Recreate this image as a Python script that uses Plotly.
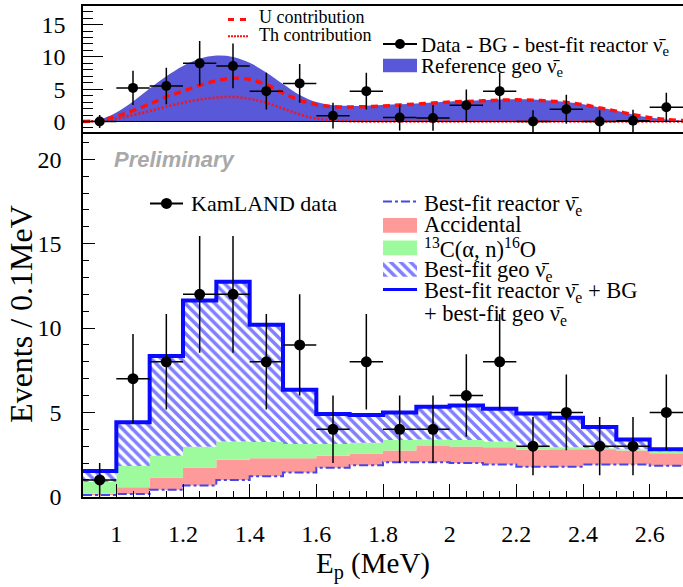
import plotly.graph_objects as go

# ---------------- data ----------------
bin_edges = [0.9, 1.0, 1.1, 1.2, 1.3, 1.4, 1.5, 1.6, 1.7, 1.8, 1.9,
             2.0, 2.1, 2.2, 2.3, 2.4, 2.5, 2.6, 2.7]
bin_centers = [0.95, 1.05, 1.15, 1.25, 1.35, 1.45, 1.55, 1.65, 1.75,
               1.85, 1.95, 2.05, 2.15, 2.25, 2.35, 2.45, 2.55, 2.65]

kamland_counts = [1, 7, 8, 12, 12, 8, 9, 4, 8, 4, 4, 6, 8, 3, 5, 3, 3, 5]
count_errors = [1.0, 2.65, 2.83, 3.46, 3.46, 2.83, 3.0, 2.0, 2.83, 2.0, 2.0,
                2.45, 2.83, 1.73, 2.24, 1.73, 1.73, 2.24]

reactor_fit = [0.10, 0.17, 0.42, 0.66, 1.00, 1.22, 1.43, 1.72, 1.87, 2.05,
               2.05, 2.00, 1.91, 1.78, 1.78, 1.91, 1.91, 1.84]
accidental = [0.10, 0.39, 0.72, 1.08, 1.20, 1.06, 0.85, 0.71, 0.70, 0.69,
              0.96, 0.98, 1.03, 1.00, 1.04, 0.91, 0.83, 0.74]
c13_alpha_n = [0.68, 1.26, 1.29, 1.23, 1.08, 0.97, 0.85, 0.70, 0.63, 0.62,
               0.39, 0.38, 0.33, 0.23, 0.12, 0.06, 0.08, 0.11]
geo_fit = [0.65, 2.60, 5.92, 8.66, 9.47, 6.95, 3.21, 1.78, 1.65, 1.64,
           1.93, 2.05, 1.95, 1.92, 1.74, 1.25, 0.58, 0.13]

# top panel: data - BG - best-fit reactor
residual_counts = [0.0, 5.2, 5.5, 9.0, 8.6, 4.7, 5.9, 0.9, 4.7, 0.6, 0.55,
                   2.5, 4.7, 0.0, 1.9, 0.0, 0.1, 2.2]

curve_x = [0.90, 0.95, 1.00, 1.05, 1.10, 1.15, 1.20, 1.25, 1.30, 1.35, 1.40,
           1.45, 1.50, 1.55, 1.60, 1.65, 1.70, 1.75, 1.80, 1.85, 1.90, 1.95,
           2.00, 2.05, 2.10, 2.15, 2.20, 2.25, 2.30, 2.35, 2.40, 2.45, 2.50,
           2.55, 2.60, 2.65, 2.70]
reference_geo = [0.0, 0.3, 1.4, 3.1, 5.1, 7.0, 8.6, 9.7, 10.2, 10.0, 9.1,
                 7.6, 5.8, 4.1, 3.0, 2.5, 2.4, 2.45, 2.55, 2.65, 2.8, 2.95,
                 3.1, 3.2, 3.3, 3.4, 3.45, 3.4, 3.25, 3.0, 2.65, 2.15, 1.65,
                 1.1, 0.6, 0.3, 0.15]
u_contribution = [0.0, 0.15, 0.8, 1.7, 2.7, 3.8, 4.7, 5.6, 6.3, 6.7, 6.5,
                  5.7, 4.4, 3.3, 2.6, 2.3, 2.25, 2.3, 2.4, 2.55, 2.7, 2.85,
                  3.0, 3.1, 3.2, 3.3, 3.35, 3.3, 3.15, 2.95, 2.6, 2.1, 1.6,
                  1.05, 0.6, 0.3, 0.15]
th_contribution = [0.0, 0.1, 0.45, 1.0, 1.6, 2.3, 2.9, 3.4, 3.7, 3.8, 3.5,
                   2.9, 2.0, 1.1, 0.45, 0.15, 0.05, 0.0, 0.0, 0.0, 0.0, 0.0,
                   0.0, 0.0, 0.0, 0.0, 0.0, 0.0, 0.0, 0.0, 0.0, 0.0, 0.0,
                   0.0, 0.0, 0.0, 0.0]

# ---------------- helpers ----------------
W, H = 683, 587
SERIF = "Liberation Serif, Times New Roman, Times, serif"
NU = "ν\u0304<sub>e</sub>"


def stack(*comps):
    out = []
    run = [0.0] * len(comps[0])
    for c in comps:
        run = [a + b for a, b in zip(run, c)]
        out.append(list(run))
    return out


def step(vals):
    return vals + [vals[-1]]


lvl_reactor, lvl_acc, lvl_c13, lvl_total = stack(reactor_fit, accidental,
                                                 c13_alpha_n, geo_fit)
half_w = [(b - a) / 2 for a, b in zip(bin_edges[:-1], bin_edges[1:])]
HATCH = dict(shape="\\", fgcolor="#0000ff", bgcolor="white", size=7,
             solidity=0.5)

fig = go.Figure()

# ---------------- bottom panel ----------------
fig.add_trace(go.Scatter(x=bin_edges, y=step(lvl_reactor), mode="lines",
                         line=dict(width=0, shape="hv"), hoverinfo="skip",
                         xaxis="x", yaxis="y"))
fig.add_trace(go.Scatter(x=bin_edges, y=step(lvl_acc), mode="lines",
                         line=dict(width=0, shape="hv"), fill="tonexty",
                         fillcolor="#ff9a9a", xaxis="x", yaxis="y"))
fig.add_trace(go.Scatter(x=bin_edges, y=step(lvl_c13), mode="lines",
                         line=dict(width=0, shape="hv"), fill="tonexty",
                         fillcolor="#9dfb9d", xaxis="x", yaxis="y"))
fig.add_trace(go.Scatter(x=bin_edges, y=step(lvl_total), mode="lines",
                         line=dict(width=0, shape="hv"), fill="tonexty",
                         fillcolor="white", fillpattern=HATCH,
                         xaxis="x", yaxis="y"))
fig.add_trace(go.Scatter(x=bin_edges, y=step(lvl_total), mode="lines",
                         line=dict(width=4, shape="hv", color="#0a0aff"),
                         xaxis="x", yaxis="y"))
fig.add_trace(go.Scatter(x=bin_edges, y=step(lvl_reactor), mode="lines",
                         line=dict(width=2, shape="hv", color="#4646e6",
                                   dash="dashdot"),
                         xaxis="x", yaxis="y"))
fig.add_trace(go.Scatter(x=bin_centers, y=kamland_counts, mode="markers",
                         marker=dict(size=11, color="black"),
                         error_y=dict(type="data", array=count_errors,
                                      color="black", thickness=1.5, width=0),
                         error_x=dict(type="data", array=half_w,
                                      color="black", thickness=1.5, width=0),
                         xaxis="x", yaxis="y"))

# ---------------- top panel ----------------
fig.add_trace(go.Scatter(x=curve_x, y=reference_geo, mode="lines",
                         line=dict(width=0, shape="spline"), fill="tozeroy",
                         fillcolor="#5858d8", xaxis="x2", yaxis="y2"))
fig.add_trace(go.Scatter(x=curve_x, y=th_contribution, mode="lines",
                         line=dict(width=2.5, shape="spline", color="#ff1010",
                                   dash="2px,2px"),
                         xaxis="x2", yaxis="y2"))
fig.add_trace(go.Scatter(x=curve_x, y=u_contribution, mode="lines",
                         line=dict(width=3.5, shape="spline", color="#ff1010",
                                   dash="7px,5px"),
                         xaxis="x2", yaxis="y2"))
fig.add_trace(go.Scatter(x=bin_centers, y=residual_counts, mode="markers",
                         marker=dict(size=10, color="black"),
                         error_y=dict(type="data", array=count_errors,
                                      color="black", thickness=1.5, width=0),
                         error_x=dict(type="data", array=half_w,
                                      color="black", thickness=1.5, width=0),
                         xaxis="x2", yaxis="y2"))

# ---------------- legend samples (pixel overlay) ----------------
def ov(**kw):
    kw.setdefault("xaxis", "x3")
    kw.setdefault("yaxis", "y3")
    fig.add_trace(go.Scatter(hoverinfo="skip", **kw))


def box(x0, x1, y0, y1, **kw):
    ov(x=[x0, x1, x1, x0, x0], y=[y0, y0, y1, y1, y0], mode="lines",
       fill="toself", line=dict(width=0), **kw)


ov(x=[228, 249], y=[20, 20], mode="lines",
   line=dict(color="#ff1010", width=3, dash="6px,6px"))
ov(x=[228, 249], y=[37, 37], mode="lines",
   line=dict(color="#ff1010", width=2, dash="2px,1px"))
ov(x=[383, 417], y=[45, 45], mode="lines", line=dict(color="black", width=2))
ov(x=[400], y=[45], mode="markers", marker=dict(size=10, color="black"))
box(383, 417, 60, 74, fillcolor="#5858d8")

ov(x=[150, 183], y=[208, 208], mode="lines", line=dict(color="black", width=2))
ov(x=[166.5], y=[208], mode="markers", marker=dict(size=11, color="black"))

ov(x=[383, 417], y=[206, 206], mode="lines",
   line=dict(color="#4646e6", width=2, dash="dashdot"))
box(383, 417, 223, 238, fillcolor="#ff9a9a")
box(383, 417, 246, 261, fillcolor="#9dfb9d")
box(383, 417, 268, 283, fillcolor="white", fillpattern=HATCH)
ov(x=[383, 417], y=[296, 296], mode="lines",
   line=dict(color="#0a0aff", width=3))

# ---------------- texts ----------------
annots = []


def txt(x, y, s, size, **kw):
    d = dict(x=x / W, y=1 - y / H, xref="paper", yref="paper", text=s,
             showarrow=False, xanchor="left", yanchor="middle",
             font=dict(family=SERIF, size=size, color="black"))
    d.update(kw)
    annots.append(d)


txt(257, 17, "U contribution", 18)
txt(257, 36, "Th contribution", 18)
txt(419, 47, "Data - BG - best-fit reactor " + NU, 21)
txt(419, 69, "Reference geo " + NU, 21)

txt(112, 163, "<b><i>Preliminary</i></b>", 22,
    font=dict(family="Liberation Sans, Arial, sans-serif", size=22,
              color="#a9a9a9"))
txt(189, 208, "KamLAND data", 22)
txt(422, 210, "Best-fit reactor " + NU, 22.5)
txt(422, 230, "Accidental", 22.5)
txt(422, 254, "<sup>13</sup>C(α, n)<sup>16</sup>O", 22.5)
txt(422, 277, "Best-fit geo " + NU, 22.5)
txt(422, 299, "Best-fit reactor " + NU + " + BG", 22.5)
txt(422, 322, "+ best-fit geo " + NU, 22.5)

annots.append(dict(x=373 / W, y=1 - 578 / H, xref="paper", yref="paper",
                   text="E<sub>p</sub> (MeV)", showarrow=False,
                   xanchor="center", yanchor="middle",
                   font=dict(family=SERIF, size=29, color="black")))
annots.append(dict(x=21 / W, y=1 - 321 / H, xref="paper", yref="paper",
                   text="Events / 0.1MeV", showarrow=False, textangle=-90,
                   xanchor="center", yanchor="middle",
                   font=dict(family=SERIF, size=32, color="black")))

# ---------------- layout ----------------
x_left = 83 / W
bot_dom = [1 - 508 / H, 1 - 135 / H]
top_dom = [1 - 135 / H, 1 - 6 / H]
tickfont = dict(family=SERIF, size=24, color="black")

fig.update_layout(
    width=W, height=H, autosize=False,
    margin=dict(l=0, r=0, t=0, b=0),
    paper_bgcolor="white", plot_bgcolor="rgba(0,0,0,0)",
    showlegend=False, annotations=annots,
    xaxis=dict(domain=[x_left, 1], range=[0.9, 2.7], showgrid=False,
               zeroline=False, showline=True, linecolor="black", linewidth=1.5,
               ticks="inside", ticklen=13, tickwidth=1.3,
               tickcolor="black", tick0=1.0, dtick=0.2, tickfont=tickfont,
               ticklabelstandoff=15,
               minor=dict(ticks="inside", ticklen=6, tickwidth=1.2,
                          tickcolor="black", tick0=0.9, dtick=0.05)),
    yaxis=dict(domain=bot_dom, range=[0, 21.62], showgrid=False,
               zeroline=False, showline=True, linecolor="black", linewidth=1.5,
               ticks="inside", ticklen=12, tickwidth=1.3, tickcolor="black",
               tick0=0, dtick=5, tickfont=tickfont, ticklabelstandoff=15,
               minor=dict(ticks="inside", ticklen=6, tickwidth=1.2,
                          tickcolor="black", tick0=0, dtick=1)),
    xaxis2=dict(domain=[x_left, 1], range=[0.9, 2.7], anchor="y2",
                showgrid=False, zeroline=False, showline=True,
                linecolor="black", linewidth=1.5, mirror=True, ticks="",
                showticklabels=False),
    yaxis2=dict(domain=top_dom, range=[-1.63, 17.9], anchor="x2",
                showgrid=False, zeroline=False, showline=True,
                linecolor="black", linewidth=1.5, ticks="inside", ticklen=20,
                tickwidth=1.3, tickcolor="black", tick0=0, dtick=5,
                tickfont=tickfont, ticklabelstandoff=11,
                minor=dict(ticks="inside", ticklen=10, tickwidth=1.2,
                           tickcolor="black", tick0=0, dtick=1)),
    xaxis3=dict(domain=[0, 1], range=[0, W], anchor="y3", visible=False,
                fixedrange=True),
    yaxis3=dict(domain=[0, 1], range=[H, 0], anchor="x3", visible=False,
                fixedrange=True),
    shapes=[dict(type="line", xref="x2 domain", yref="y2", x0=0, x1=1,
                 y0=0, y1=0, line=dict(color="black", width=1))],
)

fig.write_html("out.html")
